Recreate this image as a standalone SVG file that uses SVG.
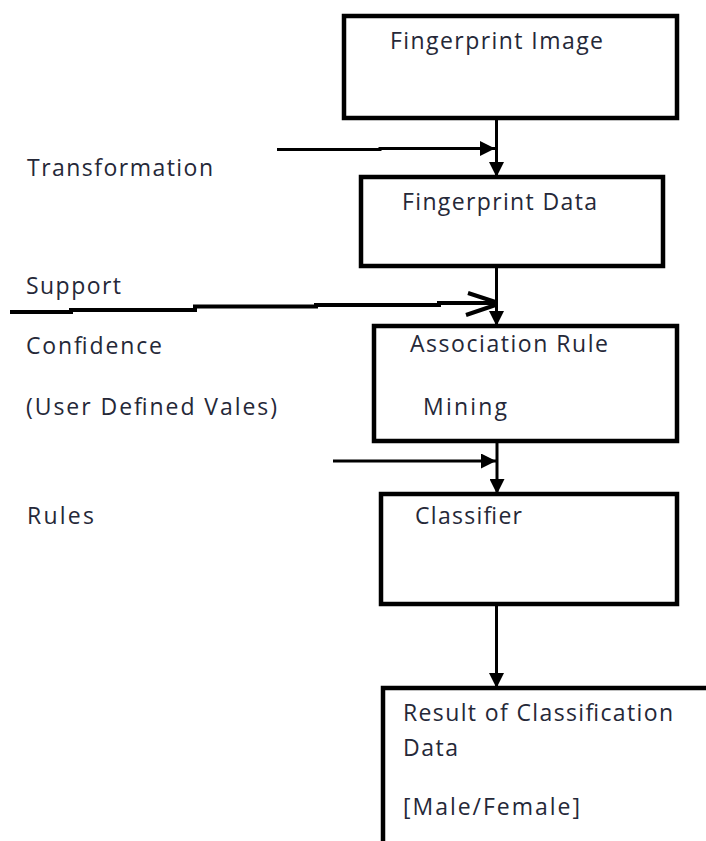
<svg xmlns="http://www.w3.org/2000/svg" width="706" height="841" viewBox="0 0 706 841">
  <style>
    .box { fill: #ffffff; stroke: #000000; stroke-width: 4.5; }
    .lbl { font-family: "Open Sans", Lato, "Liberation Sans", sans-serif; font-size: 23px; fill: #252838; }
    .wire { fill: none; stroke: #000000; stroke-width: 3; }
  </style>
  <defs>
    <marker id="arrow" viewBox="0 0 10 10" refX="10" refY="5" markerWidth="5.5" markerHeight="5" markerUnits="strokeWidth" orient="auto">
      <path d="M0,0 L10,5 L0,10 Z" fill="#000000"/>
    </marker>
  </defs>
  <rect width="706" height="841" fill="#ffffff"/>

  <!-- process boxes -->
  <g id="fingerprint-image">
    <rect class="box" x="344" y="16" width="333" height="102"/>
    <text class="lbl" x="390" y="49" textLength="213">Fingerprint Image</text>
  </g>
  <g id="fingerprint-data">
    <rect class="box" x="361" y="177" width="302" height="89"/>
    <text class="lbl" x="402" y="210" textLength="195">Fingerprint Data</text>
  </g>
  <g id="association-rule-mining">
    <rect class="box" x="374" y="326" width="303" height="115"/>
    <text class="lbl" x="410" y="352" textLength="198">Association Rule</text>
    <text class="lbl" x="423" y="415" textLength="84">Mining</text>
  </g>
  <g id="classifier">
    <rect class="box" x="381" y="494" width="296" height="110"/>
    <text class="lbl" x="415" y="524" textLength="107">Classifier</text>
  </g>
  <g id="result">
    <path class="box" d="M383,845 L383,688 L710,688"/>
    <text class="lbl" x="403" y="721" textLength="270">Result of Classification</text>
    <text class="lbl" x="403" y="756" textLength="55">Data</text>
    <text class="lbl" x="403" y="815" textLength="177">[Male/Female]</text>
  </g>

  <!-- side inputs -->
  <g id="inputs">
    <text class="lbl" x="27" y="176" textLength="186">Transformation</text>
    <text class="lbl" x="26" y="294" textLength="95">Support</text>
    <text class="lbl" x="26" y="354" textLength="136">Confidence</text>
    <text class="lbl" x="26" y="415" textLength="251">(User Defined Vales)</text>
    <text class="lbl" x="27" y="524" textLength="67">Rules</text>
  </g>

  <!-- connectors -->
  <g id="connectors">
    <line class="wire" x1="496.5" y1="118" x2="496.5" y2="177" marker-end="url(#arrow)"/>
    <path class="wire" d="M277,149.5 L380,149.5 L380,148.5 L495,148.5" marker-end="url(#arrow)"/>

    <line class="wire" x1="496.5" y1="266" x2="496.5" y2="326" marker-end="url(#arrow)"/>
    <path d="M10,312 L71,312 L71,310 L195,310 L195,306.5 L316,306.5 L316,305 L439,305 L439,303 L497,303" fill="none" stroke="#000" stroke-width="4"/>
    <path d="M468,293 L497,302.5 M466,315 L497,304.5" fill="none" stroke="#000" stroke-width="4"/>

    <line class="wire" x1="497" y1="441" x2="497" y2="494" marker-end="url(#arrow)"/>
    <line class="wire" x1="333" y1="461" x2="496" y2="461" marker-end="url(#arrow)"/>

    <line class="wire" x1="496.5" y1="604" x2="496.5" y2="688" marker-end="url(#arrow)"/>
  </g>
</svg>
